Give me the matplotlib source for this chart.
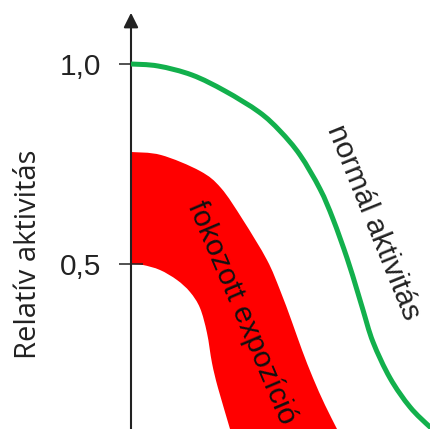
import numpy as np
import matplotlib.pyplot as plt
from matplotlib.path import Path
from matplotlib.patches import PathPatch

# normal activity curve (green)
norm_x = [0, 27, 61, 94, 128, 149, 169, 189, 202, 216, 226, 232, 242, 259, 279, 299, 310]
norm_y = [1.0, 0.995, 0.9725, 0.9325, 0.88, 0.8325, 0.7725, 0.6875, 0.6125, 0.515,
          0.435, 0.385, 0.305, 0.215, 0.1425, 0.0925, 0.07]

# increased exposure band (red): upper and lower edge
top_x = [0, 30, 69, 90, 112, 136, 149, 161, 171, 182, 194, 206, 216]
top_y = [0.78, 0.7725, 0.7325, 0.69, 0.61, 0.51, 0.435, 0.355, 0.285, 0.215, 0.1475, 0.0875, 0.035]
low_x = [0, 12, 29, 46, 59, 69, 76, 81, 87, 99, 105]
low_y = [0.5, 0.4975, 0.485, 0.46, 0.43, 0.39, 0.3275, 0.2525, 0.19, 0.0875, 0.03]

yticks = [0.5, 1.0]
ytick_labels = ["0,5", "1,0"]


def smooth_path(xs, ys):
    # catmull-rom through the points, written as cubic bezier segments
    p = np.column_stack([xs, ys]).astype(float)
    verts = [p[0]]
    codes = [Path.MOVETO]
    for i in range(len(p) - 1):
        p0 = p[i - 1] if i > 0 else p[i]
        p3 = p[i + 2] if i + 2 < len(p) else p[i + 1]
        c1 = p[i] + (p[i + 1] - p0) / 6
        c2 = p[i + 1] - (p3 - p[i]) / 6
        verts += [c1, c2, p[i + 1]]
        codes += [Path.CURVE4] * 3
    return verts, codes


fig = plt.figure(figsize=(4.31, 4.29), dpi=100)
ax = fig.add_axes([131/431, 0, 300/431, 1])
ax.set_xlim(0, 300)
ax.set_ylim(0.0875, 1.16)

# red band: upper edge left->right, lower edge right->left
v1, c1 = smooth_path(top_x, top_y)
v2, c2 = smooth_path(low_x[::-1], low_y[::-1])
c2[0] = Path.LINETO
band = Path(v1 + v2 + [v1[0]], c1 + c2 + [Path.CLOSEPOLY])
ax.add_patch(PathPatch(band, facecolor="#ff0000", lw=0, zorder=1))

vg, cg = smooth_path(norm_x, norm_y)
ax.add_patch(PathPatch(Path(vg, cg), facecolor="none", edgecolor="#12b04c", lw=3.6,
                       capstyle="butt", zorder=4))

for s in ["top", "right", "bottom", "left"]:
    ax.spines[s].set_visible(False)
ax.set_xticks([])
ax.set_yticks(yticks)
ax.set_yticklabels(ytick_labels, family="Liberation Sans", fontsize=21.5, color="#222222")
ax.tick_params(axis="y", direction="inout", length=17, width=1.1, color="#222222", pad=13)

# y axis with arrow
ax.annotate("", xy=(0, 1.128), xytext=(0, 0.0875), annotation_clip=False,
            arrowprops=dict(arrowstyle="-|>", color="#222222", lw=1.5,
                            mutation_scale=22, shrinkA=0, shrinkB=0))

ax.text(242, 0.605, "normál aktivitás", rotation=-68, ha="center", va="center",
        family="Liberation Sans", fontsize=21.5, color="#222222", rotation_mode="anchor")
ax.text(111, 0.378, "fokozott expozíció", rotation=-67, ha="center", va="center",
        family="Liberation Sans", fontsize=21.5, color="#111111", rotation_mode="anchor")

fig.text(29/431, 1-254/429, "Relatív aktivitás", rotation=90, ha="center", va="center",
         family="Open Sans", fontsize=21, color="#222222")

fig.savefig("out.png", dpi=100)
